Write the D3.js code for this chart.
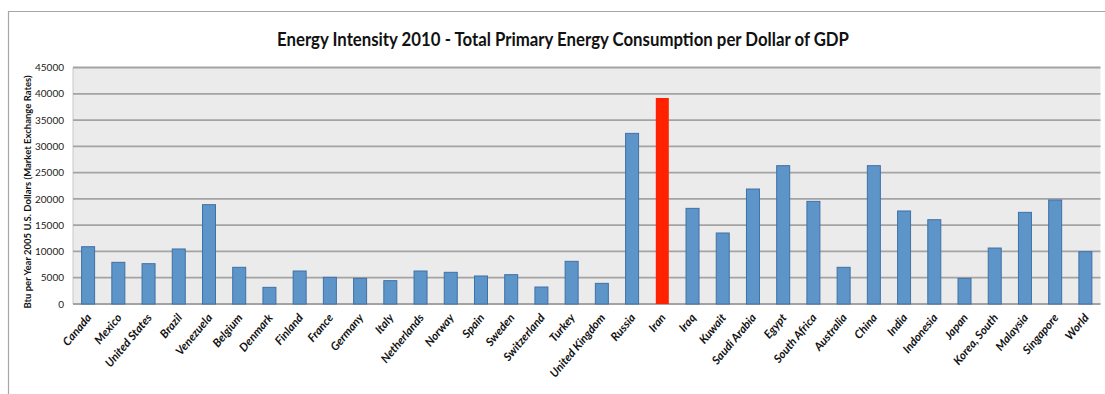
<!DOCTYPE html>
<html>
<head>
<meta charset="utf-8">
<script src="https://cdn.jsdelivr.net/npm/d3@7"></script>
<style>
  body { margin: 0; background: #fff; }
  text { font-family: Lato, "Open Sans", sans-serif; }
</style>
</head>
<body>
<div id="chart"></div>
<script>
var countries = ["Canada","Mexico","United States","Brazil","Venezuela","Belgium","Denmark","Finland","France","Germany","Italy","Netherlands","Norway","Spain","Sweden","Switzerland","Turkey","United Kingdom","Russia","Iran","Iraq","Kuwait","Saudi Arabia","Egypt","South Africa","Australia","China","India","Indonesia","Japan","Korea, South","Malaysia","Singapore","World"];
var intensity = [10900,7930,7670,10470,18900,6980,3170,6280,5080,4880,4440,6280,6030,5330,5580,3230,8120,3930,32470,39200,18200,13510,21880,26320,19530,6980,26320,17700,16040,4880,10650,17440,19790,9950];
var yTicks = [0,5000,10000,15000,20000,25000,30000,35000,40000,45000];
var highlight = "Iran";

var W = 1105, H = 394;
var margin = {top: 67.5, right: 4.5, bottom: 90, left: 73};

var svg = d3.select("#chart").append("svg")
    .attr("width", W)
    .attr("height", H);

// outer chart border (only left & top visible in the frame)
svg.append("path")
    .attr("d", "M8.5," + H + "V11.5H" + W)
    .attr("fill", "none")
    .attr("stroke", "#a6a6a6")
    .attr("stroke-width", 1.2);

var x = d3.scaleBand()
    .domain(countries)
    .range([margin.left, W - margin.right])
    .paddingInner(0.57)
    .paddingOuter(0.285);

var y = d3.scaleLinear()
    .domain([0, 45000])
    .range([304, margin.top]);

// plot background
svg.append("rect")
    .attr("x", margin.left)
    .attr("y", y(45000))
    .attr("width", W - margin.right - margin.left)
    .attr("height", y(0) - y(45000))
    .attr("fill", "#ebebeb");

svg.append("line")
    .attr("x1", margin.left).attr("x2", margin.left)
    .attr("y1", y(45000)).attr("y2", y(0))
    .attr("stroke", "#c8c8c8");

// gridlines
svg.append("g")
    .selectAll("line")
    .data(yTicks)
    .enter().append("line")
    .attr("x1", margin.left)
    .attr("x2", W - margin.right)
    .attr("y1", function (d) { return y(d); })
    .attr("y2", function (d) { return y(d); })
    .attr("stroke", "#a3a3a3")
    .attr("stroke-width", 1.8);

// y axis labels
var yAxis = d3.axisLeft(y).tickValues(yTicks).tickFormat(d3.format("d")).tickSize(0).tickPadding(9);
var gy = svg.append("g")
    .attr("transform", "translate(" + margin.left + ",0)")
    .call(yAxis);
gy.select(".domain").remove();
gy.selectAll("text")
    .attr("font-size", 10)
    .attr("fill", "#222")
    .style("font-family", "Lato, sans-serif");

// bars
svg.append("g")
    .selectAll("rect")
    .data(countries)
    .enter().append("rect")
    .attr("x", function (d) { return x(d); })
    .attr("y", function (d, i) { return y(intensity[i]); })
    .attr("width", x.bandwidth())
    .attr("height", function (d, i) { return y(0) - y(intensity[i]); })
    .attr("fill", function (d) { return d === highlight ? "#ff2200" : "#5e95c9"; })
    .attr("stroke", function (d) { return d === highlight ? "none" : "#3f70a6"; })
    .attr("stroke-width", 1);

// x labels
svg.append("g")
    .selectAll("text")
    .data(countries)
    .enter().append("text")
    .attr("transform", function (d) {
        return "translate(" + (x(d) + x.bandwidth() / 2 + 4) + ",318) rotate(-50)";
    })
    .attr("text-anchor", "end")
    .attr("font-size", 11.5)
    .attr("font-weight", "bold")
    .attr("font-style", "italic")
    .attr("fill", "#111")
    .text(function (d) { return d; });

// title
svg.append("text")
    .attr("x", 563)
    .attr("y", 46)
    .attr("text-anchor", "middle")
    .attr("font-size", 18)
    .attr("font-weight", "bold")
    .attr("fill", "#111")
    .attr("textLength", 572)
    .attr("lengthAdjust", "spacingAndGlyphs")
    .text("Energy Intensity 2010 - Total Primary Energy Consumption per Dollar of GDP");

// y axis title
svg.append("text")
    .attr("transform", "translate(31,192) rotate(-90)")
    .attr("text-anchor", "middle")
    .attr("font-size", 9.5)
    .attr("font-weight", "bold")
    .attr("fill", "#111")
    .text("Btu per Year 2005 U.S. Dollars (Market Exchange Rates)");
</script>
</body>
</html>
